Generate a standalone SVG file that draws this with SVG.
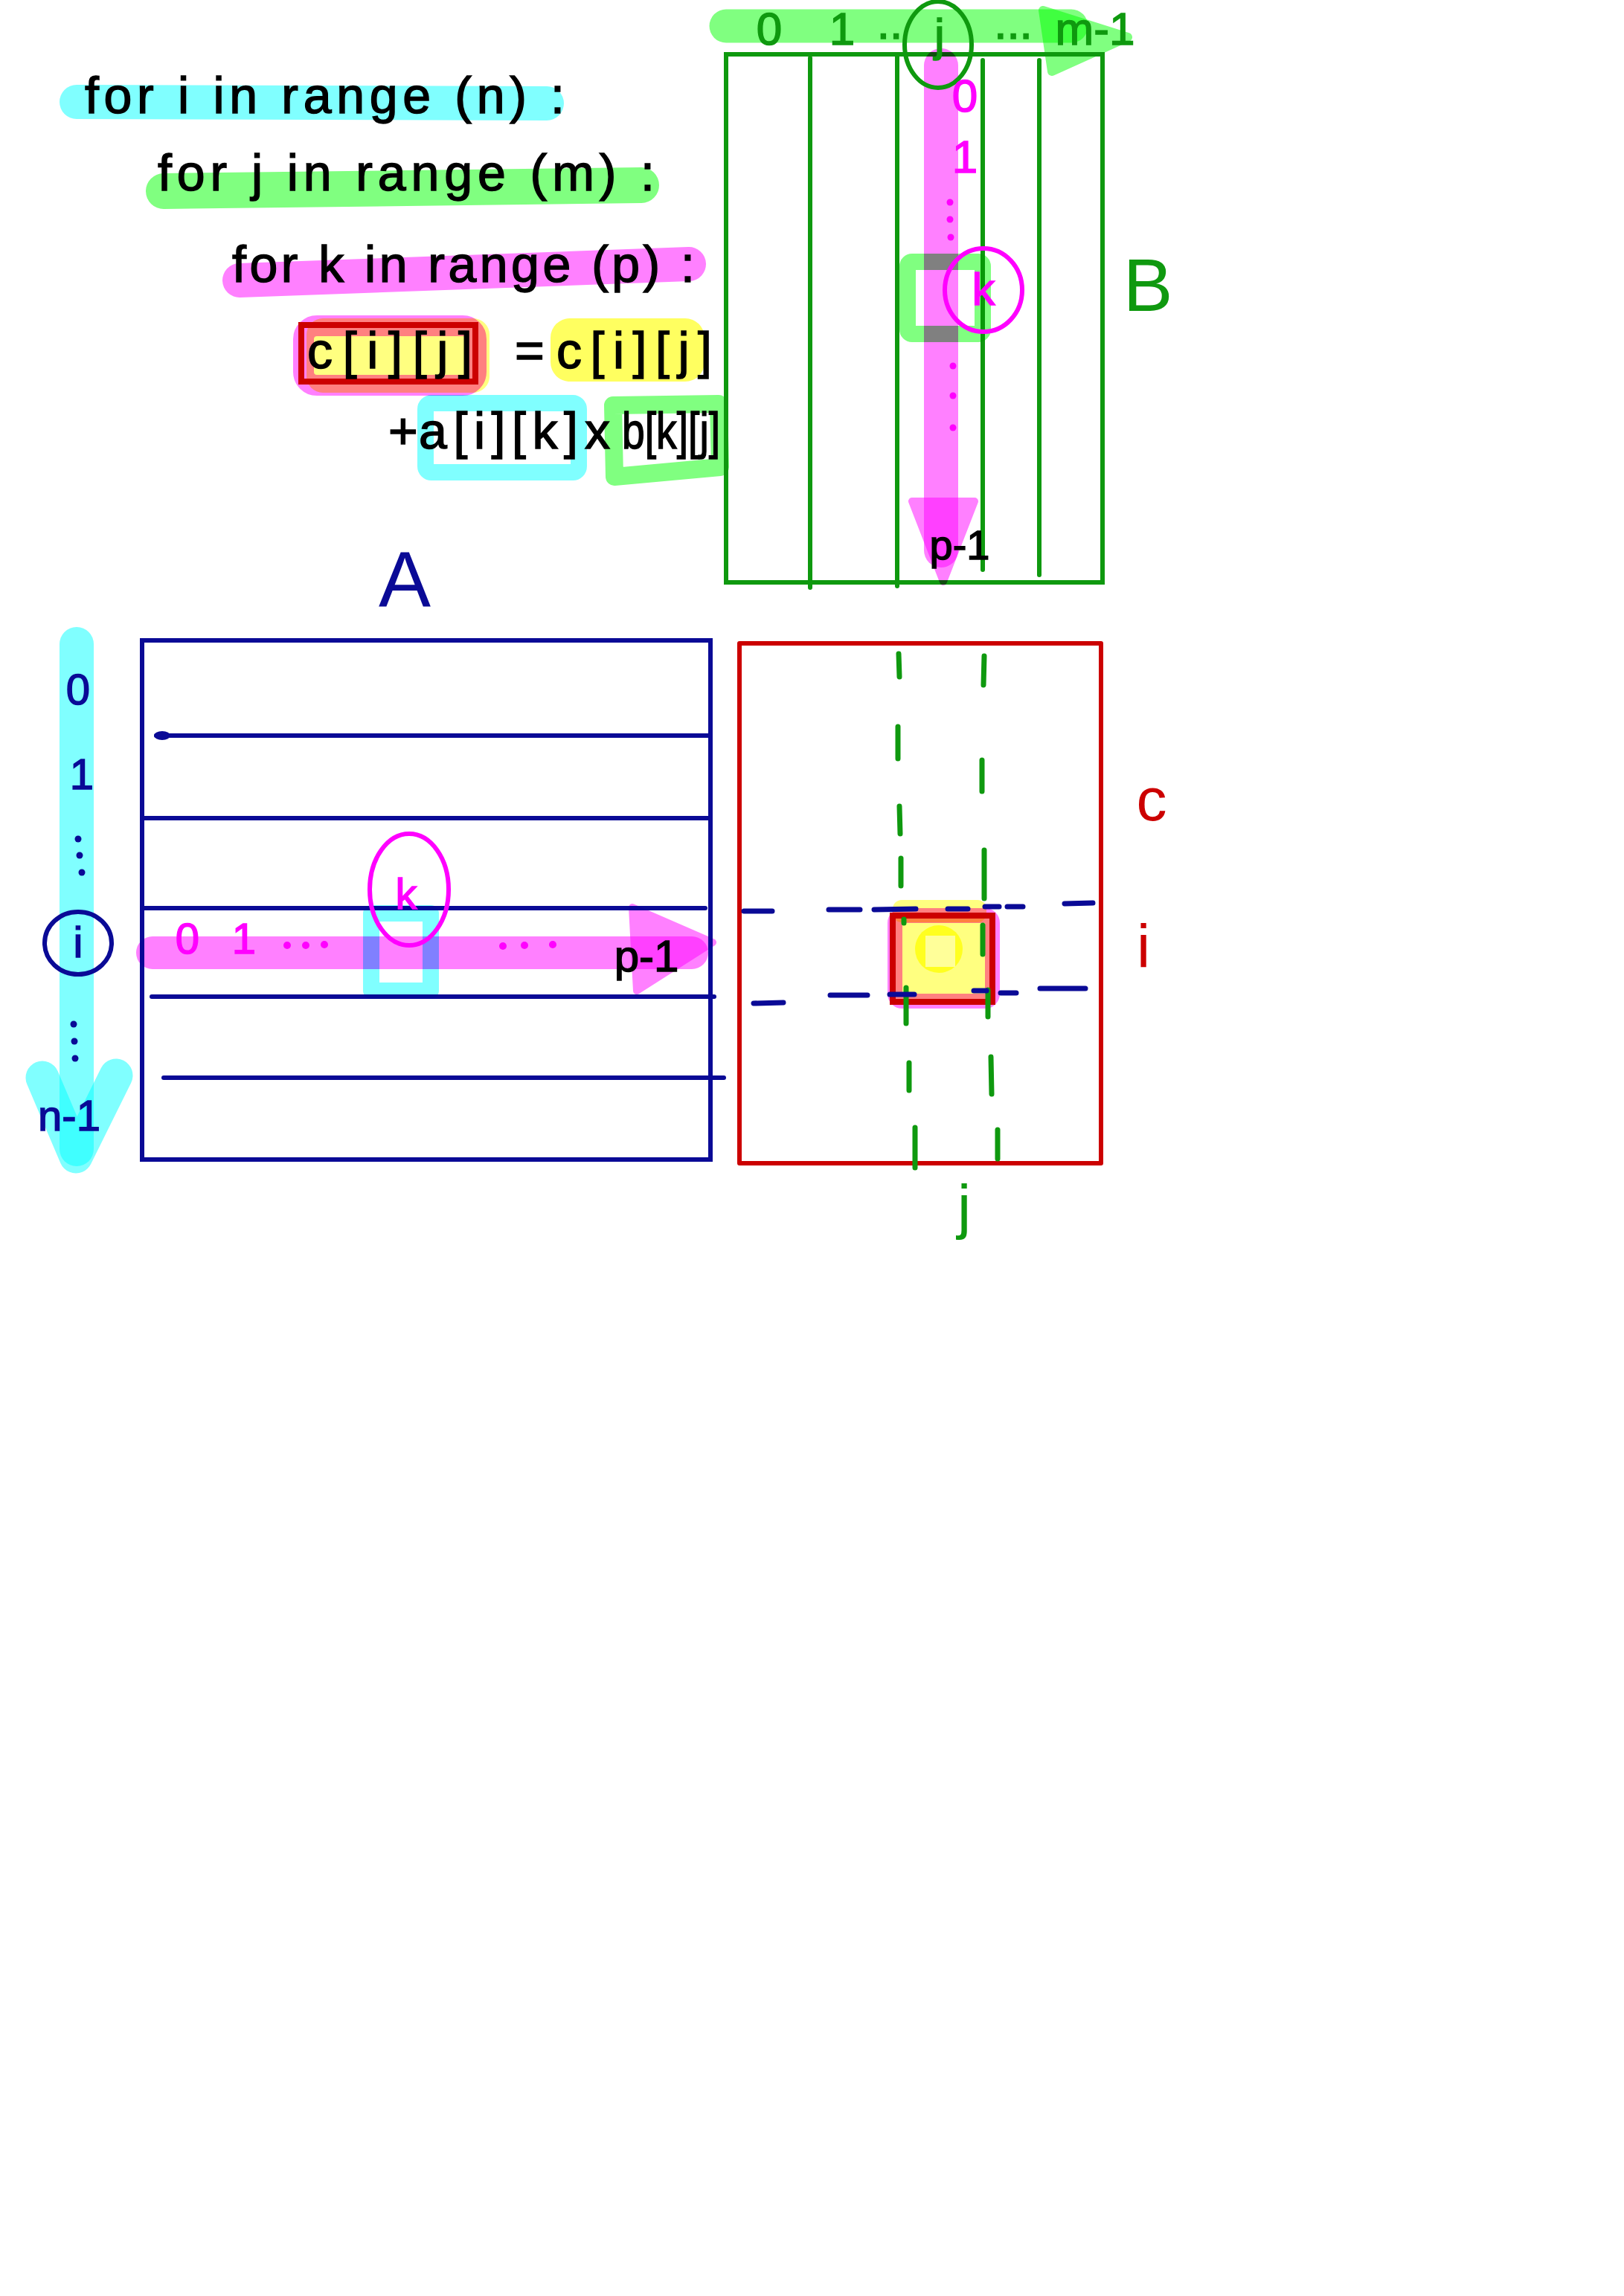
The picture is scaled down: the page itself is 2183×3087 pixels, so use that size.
<svg xmlns="http://www.w3.org/2000/svg" width="2183" height="3087" viewBox="0 0 2183 3087">
<style>
.hl{mix-blend-mode:multiply;fill:none;stroke-linecap:round;stroke-linejoin:round}
.hlf{mix-blend-mode:multiply;stroke-linejoin:round;stroke-linecap:round}
.txt{font-family:"Liberation Sans",Arial,sans-serif}
.code{font-family:"Liberation Sans",Arial,sans-serif;fill:#000;stroke:#000;stroke-width:1.5;font-size:68px}
.navy{fill:#0a0a96}
.grn{fill:#0f990f}
.red{fill:#cc0000}
.mag{fill:#ff00ff}
.blk{fill:#000}
.ln-navy{stroke:#0a0a96;stroke-width:6;fill:none;stroke-linecap:round}
.ln-grn{stroke:#0f990f;stroke-width:6;fill:none;stroke-linecap:round}
.ln-red{stroke:#cc0000;stroke-width:6;fill:none;stroke-linecap:round;stroke-linejoin:round}
.dash-grn{stroke:#0f990f;stroke-width:7;fill:none;stroke-linecap:round}
.dash-navy{stroke:#0a0a96;stroke-width:7;fill:none;stroke-linecap:round}
</style>
<rect width="2183" height="3087" fill="#ffffff"/>

<!-- Code -->
<g id="code">
  <line class="hl" x1="103" y1="137" x2="735" y2="139" stroke="#80ffff" stroke-width="46"/>
  <line class="hl" x1="220" y1="257" x2="862" y2="249" stroke="#80ff80" stroke-width="48"/>
  <line class="hl" x1="322" y1="377" x2="926" y2="355" stroke="#ff80ff" stroke-width="46"/>
  <text class="code" x="114" y="152" textLength="645" lengthAdjust="spacing">for i in range (n) :</text>
  <text class="code" x="212" y="256" textLength="668" lengthAdjust="spacing">for j in range (m) :</text>
  <text class="code" x="312" y="379" textLength="622" lengthAdjust="spacing">for k in range (p) :</text>
  <!-- c[i][j] highlight -->
  <rect class="hl" x="408" y="438" width="232" height="80" rx="18" stroke="#ff80ff" stroke-width="28"/>
  <rect class="hlf" x="412" y="428" width="246" height="100" rx="22" fill="#ffff80"/>
  <rect x="405" y="437" width="234" height="76" fill="none" stroke="#cc0000" stroke-width="8"/>
  <rect class="hlf" x="740" y="428" width="207" height="85" rx="26" fill="#ffff60"/>
  <text class="code" x="413" y="495" font-size="70" textLength="222" lengthAdjust="spacing">c[i][j]</text>
  <text class="code" x="692" y="495" font-size="70">=</text>
  <text class="code" x="748" y="495" font-size="70" textLength="209" lengthAdjust="spacing">c[i][j]</text>
  <!-- a[i][k] x b[k][j] -->
  <rect class="hl" x="572" y="542" width="206" height="93" rx="8" stroke="#80ffff" stroke-width="22"/>
  <path class="hl" d="M824 545 L966 543 L968 628 L826 641 Z" stroke="#80ff80" stroke-width="24"/>
  <text class="code" x="522" y="603" font-size="70">+</text>
  <text class="code" x="563" y="603" font-size="72" textLength="214" lengthAdjust="spacing">a[i][k]</text>
  <text class="code" x="786" y="603" font-size="56">x</text>
  <text class="code" x="836" y="603" font-size="66" textLength="132" lengthAdjust="spacingAndGlyphs">b[k][j]</text>
</g>

<!-- Matrix B -->
<g id="matrix-b">
  <line class="hl" x1="976" y1="35" x2="1440" y2="35" stroke="#80ff80" stroke-width="45"/>
  <polygon class="hlf" points="1402,14 1516,50 1414,96" fill="#80ff80" stroke="#80ff80" stroke-width="12"/>
  <rect x="976" y="73" width="506" height="710" class="ln-grn"/>
  <line class="ln-grn" x1="1089" y1="78" x2="1089" y2="790"/>
  <line class="ln-grn" x1="1206" y1="73" x2="1206" y2="788"/>
  <line class="ln-grn" x1="1321" y1="81" x2="1321" y2="766"/>
  <line class="ln-grn" x1="1397" y1="81" x2="1397" y2="773"/>
  <rect class="hl" x="1220" y="352" width="101" height="97" rx="6" stroke="#80ff80" stroke-width="22"/>
  <line class="hl" x1="1265" y1="88" x2="1265" y2="740" stroke="#ff80ff" stroke-width="46"/>
  <polygon class="hlf" points="1226,674 1310,674 1268,782" fill="#ff80ff" stroke="#ff80ff" stroke-width="10"/>
  <g class="txt grn" font-size="62" text-anchor="middle" stroke="#0f990f" stroke-width="1.5">
    <text x="1034" y="60">0</text>
    <text x="1132" y="60">1</text>
    <text x="1196" y="52">..</text>
    <text x="1263" y="68">j</text>
    <text x="1362" y="52">...</text>
    <text x="1472" y="60">m-1</text>
  </g>
  <ellipse cx="1261" cy="60" rx="45" ry="58" fill="none" stroke="#0f990f" stroke-width="6"/>
  <g class="txt mag" font-size="62" text-anchor="middle" stroke="#ff00ff" stroke-width="1.5">
    <text x="1297" y="150">0</text>
    <text x="1297" y="232">1</text>
    <text x="1322" y="410">k</text>
  </g>
  <g class="mag">
    <circle cx="1277" cy="272" r="4.5"/><circle cx="1277" cy="295" r="4.5"/><circle cx="1278" cy="319" r="4.5"/>
    <circle cx="1281" cy="492" r="4.5"/><circle cx="1281" cy="532" r="4.5"/><circle cx="1281" cy="575" r="4.5"/>
  </g>
  <ellipse cx="1322" cy="390" rx="52" ry="56" fill="none" stroke="#ff00ff" stroke-width="6"/>
  <text class="txt blk" x="1290" y="752" font-size="56" text-anchor="middle" stroke="#000" stroke-width="1.5">p-1</text>
  <text class="txt grn" x="1543" y="418" font-size="100" text-anchor="middle">B</text>
</g>

<!-- Matrix A -->
<g id="matrix-a">
  <text class="txt navy" x="544" y="815" font-size="105" text-anchor="middle">A</text>
  <rect x="191" y="861" width="764" height="698" class="ln-navy"/>
  <ellipse cx="218" cy="989" rx="11" ry="6" fill="#0a0a96"/>
  <line class="ln-navy" x1="210" y1="989" x2="952" y2="989"/>
  <line class="ln-navy" x1="191" y1="1100" x2="952" y2="1100"/>
  <line class="ln-navy" x1="191" y1="1221" x2="948" y2="1221"/>
  <line class="ln-navy" x1="204" y1="1340" x2="960" y2="1340"/>
  <line class="ln-navy" x1="220" y1="1449" x2="973" y2="1449"/>
  <!-- row arrow (i) -->
  <line class="hl" x1="103" y1="866" x2="103" y2="1545" stroke="#80ffff" stroke-width="46"/>
  <polyline class="hl" points="57,1449 102,1555 156,1446" stroke="#80ffff" stroke-width="45"/>
  <g class="txt navy" font-size="58" text-anchor="middle" stroke="#0a0a96" stroke-width="1.5">
    <text x="105" y="947">0</text>
    <text x="110" y="1061">1</text>
    <text x="105" y="1287">i</text>
    <text x="93" y="1520">n-1</text>
  </g>
  <g class="navy">
    <circle cx="105" cy="1128" r="4.5"/><circle cx="107" cy="1150" r="4.5"/><circle cx="110" cy="1173" r="4.5"/>
    <circle cx="99" cy="1377" r="4.5"/><circle cx="100" cy="1400" r="4.5"/><circle cx="101" cy="1423" r="4.5"/>
  </g>
  <ellipse cx="105" cy="1268" rx="45" ry="42" fill="none" stroke="#0a0a96" stroke-width="6"/>
  <!-- column arrow (k) -->
  <rect class="hl" x="499" y="1228" width="80" height="104" stroke="#80ffff" stroke-width="22"/>
  <line class="hl" x1="205" y1="1281" x2="930" y2="1281" stroke="#ff80ff" stroke-width="44"/>
  <polygon class="hlf" points="850,1220 958,1267 856,1332" fill="#ff80ff" stroke="#ff80ff" stroke-width="10"/>
  <g class="txt mag" font-size="58" text-anchor="middle" stroke="#ff00ff" stroke-width="1.5">
    <text x="252" y="1282">0</text>
    <text x="328" y="1282">1</text>
    <text x="546" y="1222">k</text>
  </g>
  <g class="mag">
    <circle cx="386" cy="1271" r="5"/><circle cx="411" cy="1271" r="5"/><circle cx="436" cy="1270" r="5"/>
    <circle cx="676" cy="1272" r="5"/><circle cx="705" cy="1271" r="5"/><circle cx="743" cy="1270" r="5"/>
  </g>
  <ellipse cx="550" cy="1196" rx="53" ry="75" fill="none" stroke="#ff00ff" stroke-width="6"/>
  <text class="txt blk" x="869" y="1306" font-size="60" text-anchor="middle" stroke="#000" stroke-width="1.5">p-1</text>
</g>

<!-- Matrix C -->
<g id="matrix-c">
  <rect x="994" y="865" width="486" height="699" class="ln-red"/>
  <!-- highlighted cell -->
  <rect class="hlf" x="1200" y="1210" width="126" height="30" rx="12" fill="#ffff80"/>
  <rect class="hlf" x="1200" y="1228" width="138" height="120" rx="10" fill="#ffff80"/>
  <rect class="hl" x="1203" y="1231" width="131" height="115" rx="10" stroke="#ff80ff" stroke-width="20"/>
  <circle class="hlf" cx="1262" cy="1276" r="32" fill="#ffff40"/>
  <rect x="1244" y="1258" width="40" height="42" fill="#ffff99"/>
  <rect x="1200" y="1231" width="134" height="116" fill="none" stroke="#cc0000" stroke-width="8"/>
  <text class="txt red" x="1548" y="1103" font-size="82" text-anchor="middle">c</text>
  <text class="txt red" x="1537" y="1300" font-size="82" text-anchor="middle">i</text>
  <text class="txt grn" x="1296" y="1650" font-size="82" text-anchor="middle">j</text>
</g>

<!-- Connectors: projection guides from A and B into C -->
<g id="connectors">
  <g class="dash-grn">
    <line x1="1208" y1="879" x2="1209" y2="910"/>
    <line x1="1207" y1="977" x2="1207" y2="1020"/>
    <line x1="1209" y1="1084" x2="1210" y2="1121"/>
    <line x1="1211" y1="1154" x2="1211" y2="1191"/>
    <line x1="1215" y1="1236" x2="1215" y2="1241"/>
    <line x1="1218" y1="1328" x2="1218" y2="1376"/>
    <line x1="1222" y1="1429" x2="1222" y2="1466"/>
    <line x1="1230" y1="1516" x2="1230" y2="1570"/>
    <line x1="1323" y1="882" x2="1322" y2="921"/>
    <line x1="1320" y1="1022" x2="1320" y2="1064"/>
    <line x1="1323" y1="1143" x2="1323" y2="1208"/>
    <line x1="1321" y1="1244" x2="1321" y2="1283"/>
    <line x1="1328" y1="1331" x2="1328" y2="1367"/>
    <line x1="1332" y1="1421" x2="1333" y2="1471"/>
    <line x1="1341" y1="1519" x2="1341" y2="1558"/>
  </g>
  <g class="dash-navy">
    <line x1="1000" y1="1225" x2="1038" y2="1225"/>
    <line x1="1114" y1="1223" x2="1156" y2="1223"/>
    <line x1="1175" y1="1223" x2="1231" y2="1222"/>
    <line x1="1274" y1="1222" x2="1301" y2="1222"/>
    <line x1="1324" y1="1219" x2="1343" y2="1219"/>
    <line x1="1354" y1="1219" x2="1375" y2="1219"/>
    <line x1="1431" y1="1215" x2="1469" y2="1214"/>
    <line x1="1013" y1="1349" x2="1053" y2="1348"/>
    <line x1="1116" y1="1338" x2="1166" y2="1338"/>
    <line x1="1196" y1="1337" x2="1229" y2="1337"/>
    <line x1="1309" y1="1332" x2="1326" y2="1332"/>
    <line x1="1345" y1="1335" x2="1366" y2="1335"/>
    <line x1="1398" y1="1329" x2="1459" y2="1329"/>
  </g>
</g>
</svg>
